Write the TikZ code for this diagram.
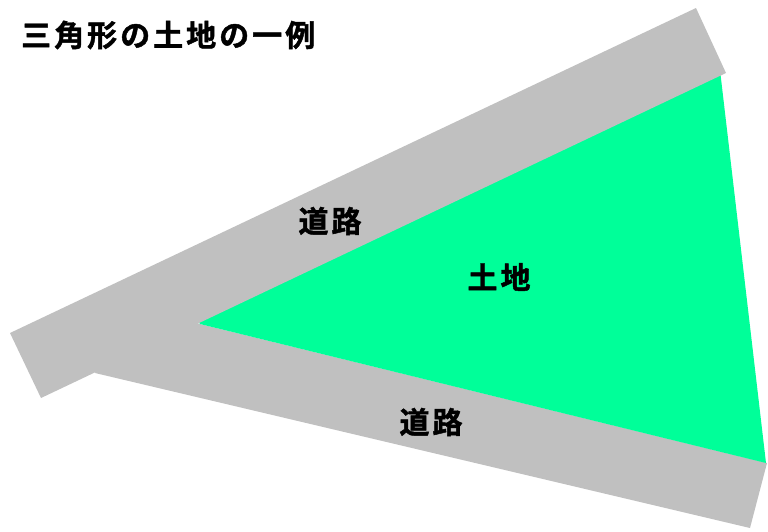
\documentclass[tikz,border=0pt]{standalone}
\usepackage{fontspec}
\newfontfamily\cjk[LetterSpace=10,FakeBold=1.5]{Noto Sans CJK JP Bold}
\definecolor{roadgray}{RGB}{192,192,192}
\definecolor{landgreen}{RGB}{0,255,153}

\begin{document}
\begin{tikzpicture}[x=1pt,y=-1pt]
          \useasboundingbox (0,0) rectangle (768,531);

          \fill [roadgray] (95,373) -- (750,528) -- (767,463) -- (200,324) -- (120,300) -- cycle;
          \fill [landgreen] (200,324) -- (197,318) -- (720,70) -- (766,463) -- cycle;
          \fill [roadgray] (10,333) -- (696,8) -- (726,73) -- (41,398) -- cycle;

          \begin{scope}[every node/.style={font=\cjk\fontsize{30}{33}\selectfont,inner sep=0pt}]
            \node (title) [anchor=west] at (21,35) {三角形の土地の一例};
            \node (road1) at (330,221) {道路};
            \node (land) at (499,277) {土地};
            \node (road2) at (431,422) {道路};
          \end{scope}
        \end{tikzpicture}
\end{document}
